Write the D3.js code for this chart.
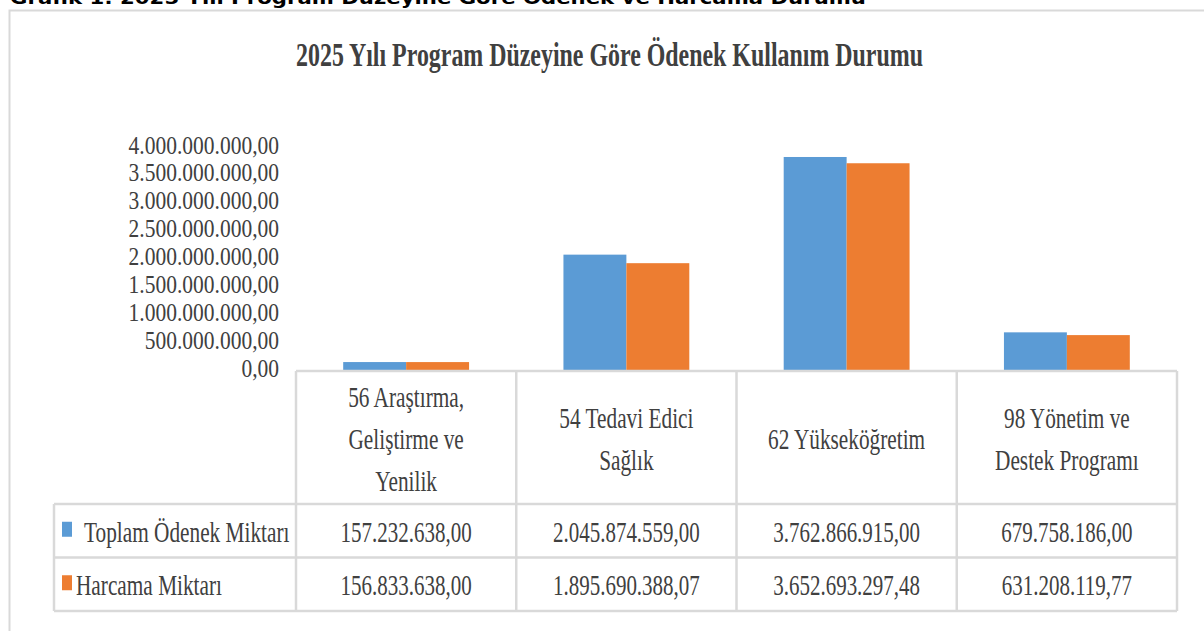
<!DOCTYPE html>
<html>
<head>
<meta charset="utf-8">
<script src="https://cdn.jsdelivr.net/npm/d3@7"></script>
<style>
  html, body { margin: 0; padding: 0; background: #ffffff; }
  svg { display: block; }
</style>
</head>
<body>
<svg id="chart" width="1204" height="631"></svg>
<script>
// ---------- DATA ----------
const headerText = "Grafik 1: 2025 Yılı Program Düzeyine Göre Ödenek ve Harcama Durumu";
const chartTitle = "2025 Yılı Program Düzeyine Göre Ödenek Kullanım Durumu";
const categories = ["56 Araştırma, Geliştirme ve Yenilik", "54 Tedavi Edici Sağlık", "62 Yükseköğretim", "98 Yönetim ve Destek Programı"];
const categoryLines = [["56 Araştırma,", "Geliştirme ve", "Yenilik"], ["54 Tedavi Edici", "Sağlık"], ["62 Yükseköğretim"], ["98 Yönetim ve", "Destek Programı"]];
const seriesNames = ["Toplam Ödenek Miktarı", "Harcama Miktarı"];
const toplamOdenek = [157232638.00, 2045874559.00, 3762866915.00, 679758186.00];
const harcamaMiktari = [156833638.00, 1895690388.07, 3652693297.48, 631208119.77];
const yTicks = [0, 500000000, 1000000000, 1500000000, 2000000000, 2500000000, 3000000000, 3500000000, 4000000000];
const seriesColors = ["#5b9bd5", "#ed7d31"];

// ---------- SETUP ----------
const svg = d3.select("#chart");
const seriesValues = [toplamOdenek, harcamaMiktari];
const trLocale = d3.formatLocale({ decimal: ",", thousands: ".", grouping: [3], currency: ["", ""] });
const fmt = trLocale.format(",.2f");

const textColor = "#404040";
const gridColor = "#d9d9d9";
const serif = "'Liberation Serif', 'Times New Roman', serif";

// Horizontally condensed text: anchor at (x, y) and squeeze by factor f
function condensedText(parent, x, y, f) {
  return parent.append("text")
    .attr("x", 0).attr("y", 0)
    .attr("transform", `translate(${x},${y}) scale(${f},1)`);
}

// Scales
const x = d3.scaleBand().domain(categories).range([296, 1177]).paddingInner(0).paddingOuter(0);
const xSub = d3.scaleBand().domain(seriesNames).range([0, x.bandwidth()]).paddingInner(0).paddingOuter(0.75);
const y = d3.scaleLinear().domain([0, 4000000000]).range([371, 143.5]);
const yLabel = d3.scaleLinear().domain(y.domain()).range([368, 145]);

// ---------- HEADER (cut-off caption) ----------
svg.append("text")
  .attr("x", 10).attr("y", 4)
  .attr("font-family", "'DejaVu Sans', Verdana, sans-serif")
  .attr("font-weight", "bold")
  .attr("font-size", 18)
  .attr("fill", "#000")
  .attr("textLength", 856)
  .attr("lengthAdjust", "spacingAndGlyphs")
  .text(headerText);

// Outer frame (top + left)
svg.append("path")
  .attr("d", "M9.5,631 L9.5,10.5 L1204,10.5")
  .attr("fill", "none")
  .attr("stroke", gridColor)
  .attr("stroke-width", 2);

// ---------- TITLE ----------
condensedText(svg, 609.5, 66, 0.78)
  .attr("text-anchor", "middle")
  .attr("font-family", serif)
  .attr("font-weight", "bold")
  .attr("font-size", 33)
  .attr("fill", textColor)
  .text(chartTitle)
  .each(function () {
    const L = this.getComputedTextLength();
    const f = 627 / L;
    this.setAttribute("transform", `translate(609.5,66) scale(${f},1)`);
  });

// ---------- Y AXIS LABELS ----------
const gY = svg.append("g");
yTicks.forEach(v => {
  condensedText(gY, 279, yLabel(v) + 8.5, 0.86)
    .attr("text-anchor", "end")
    .attr("font-family", serif)
    .attr("font-size", 25)
    .attr("fill", textColor)
    .text(fmt(v));
});

// ---------- BARS ----------
const gBars = svg.append("g");
seriesNames.forEach((s, si) => {
  gBars.append("g").selectAll("rect")
    .data(categories.map((c, i) => ({ c, v: seriesValues[si][i] })))
    .join("rect")
    .attr("x", d => x(d.c) + xSub(s))
    .attr("width", xSub.bandwidth())
    .attr("y", d => y(d.v))
    .attr("height", d => y(0) - y(d.v))
    .attr("fill", seriesColors[si]);
});

// ---------- DATA TABLE ----------
const rowTop = 504, rowH = 53.5;
const tableLeft = 54;
const xEnd = x.range()[1];
const gGrid = svg.append("g").attr("fill", "none").attr("stroke", gridColor).attr("stroke-width", 2.5);

gGrid.append("line").attr("x1", x.range()[0]).attr("x2", xEnd).attr("y1", y(0)).attr("y2", y(0));
const bounds = categories.map(c => x(c)).concat([xEnd]);
gGrid.selectAll("line.col").data(bounds).join("line")
  .attr("class", "col")
  .attr("x1", d => d).attr("x2", d => d)
  .attr("y1", y(0)).attr("y2", rowTop + rowH * seriesNames.length);
d3.range(seriesNames.length + 1).forEach(r => {
  gGrid.append("line")
    .attr("x1", tableLeft).attr("x2", xEnd)
    .attr("y1", rowTop + r * rowH).attr("y2", rowTop + r * rowH);
});
gGrid.append("line").attr("x1", tableLeft).attr("x2", tableLeft)
  .attr("y1", rowTop).attr("y2", rowTop + rowH * seriesNames.length);

// Category labels
const lineH = 42;
const gCat = svg.append("g");
categories.forEach((c, i) => {
  const lines = categoryLines[i];
  lines.forEach((ln, li) => {
    condensedText(gCat, x(c) + x.bandwidth() / 2, 449 + (li - (lines.length - 1) / 2) * lineH, 0.71)
      .attr("text-anchor", "middle")
      .attr("font-family", serif)
      .attr("font-size", 30)
      .attr("fill", textColor)
      .text(ln);
  });
});

// Legend keys + series names + values
const legendTextX = [84, 76];
const gRows = svg.append("g");
seriesNames.forEach((s, si) => {
  const cy = rowTop + si * rowH + rowH / 2;
  gRows.append("rect")
    .attr("x", 62).attr("y", cy - 9)
    .attr("width", 10).attr("height", 15)
    .attr("fill", seriesColors[si]);
  condensedText(gRows, legendTextX[si], cy + 11, 0.71)
    .attr("font-family", serif)
    .attr("font-size", 30)
    .attr("fill", textColor)
    .text(s);
  categories.forEach((c, i) => {
    condensedText(gRows, x(c) + x.bandwidth() / 2, cy + 11, 0.70)
      .attr("text-anchor", "middle")
      .attr("font-family", serif)
      .attr("font-size", 30)
      .attr("fill", textColor)
      .text(fmt(seriesValues[si][i]));
  });
});
</script>
</body>
</html>
